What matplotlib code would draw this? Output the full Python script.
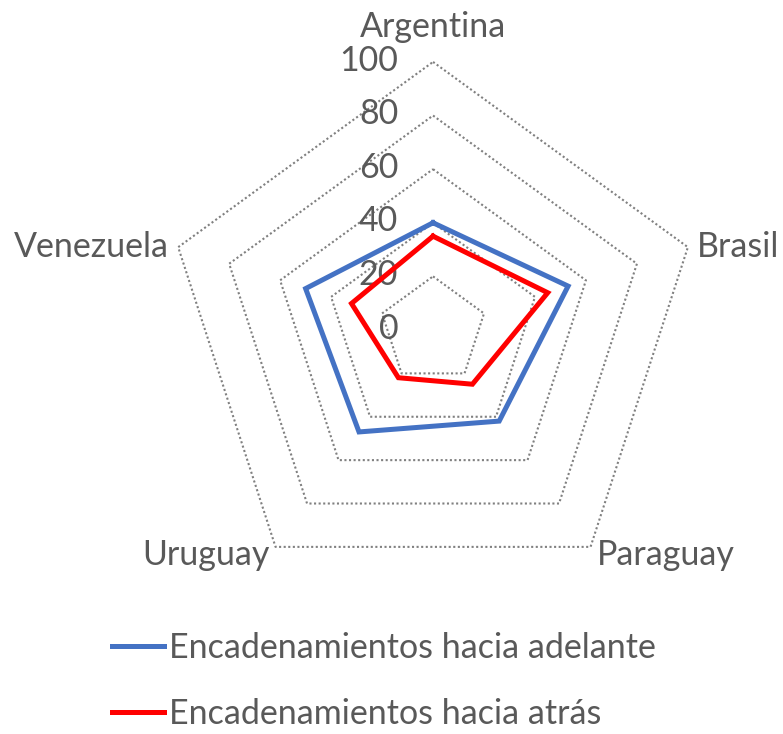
import numpy as np
import matplotlib
matplotlib.use('Agg')
import matplotlib.pyplot as plt

# ---------------------------------------------------------------
# data
paises = ['Argentina', 'Brasil', 'Paraguay', 'Uruguay', 'Venezuela']
adelante = [40, 53, 42, 47, 50]
atras = [35, 45, 25, 22, 32]
niveles = [0, 20, 40, 60, 80, 100]
series_names = ['Encadenamientos hacia adelante', 'Encadenamientos hacia atrás']

GRIS = '#595959'
FS = 24.5
plt.rcParams['font.family'] = ['Lato', 'DejaVu Sans']

# angles clockwise from the top
n = len(paises)
ang = np.arange(n) * 2*np.pi/n


def to_xy(vals):
    vals = np.asarray(vals, dtype=float)
    x = vals*np.sin(ang)
    y = vals*np.cos(ang)
    return np.append(x, x[0]), np.append(y, y[0])


fig = plt.figure(figsize=(7.83, 7.34), dpi=100)
ax = fig.add_axes([0, 0, 1, 1])
ax.set_xlim(-161.6, 130.6)
ax.set_ylim(-150.7, 123.1)
ax.axis('off')

# pentagon grid
for lv in niveles[1:]:
    gx, gy = to_xy([lv]*n)
    ax.plot(gx, gy, color='#808080', lw=1.5, ls=(0, (1, 1.2)), zorder=1)

# radial tick labels
for lv in niveles:
    ax.text(-13, lv + 0.5, str(lv), ha='right', va='center', fontsize=FS, color=GRIS)

# category labels
ax.text(0, 113, paises[0], ha='center', va='center', fontsize=FS, color=GRIS)
ax.text(98.5, 31, paises[1], ha='left', va='center', fontsize=FS, color=GRIS)
ax.text(61, -84, paises[2], ha='left', va='center', fontsize=FS, color=GRIS)
ax.text(-61, -84, paises[3], ha='right', va='center', fontsize=FS, color=GRIS)
ax.text(-98.5, 31, paises[4], ha='right', va='center', fontsize=FS, color=GRIS)

# series
bx, by = to_xy(adelante)
ax.plot(bx, by, color='#4472C4', lw=3.6, solid_joinstyle='miter', zorder=3, label=series_names[0])
rx, ry = to_xy(atras)
ax.plot(rx, ry, color='#FF0000', lw=3.6, solid_joinstyle='miter', zorder=4, label=series_names[1])

leg = ax.legend(loc='upper left', bbox_to_anchor=(98/783, 1 - 618/734), frameon=False,
                fontsize=FS, handlelength=1.55, handletextpad=0.15, labelspacing=1.0,
                borderaxespad=0)
for t in leg.get_texts():
    t.set_color(GRIS)

fig.savefig('out.png', dpi=100)
